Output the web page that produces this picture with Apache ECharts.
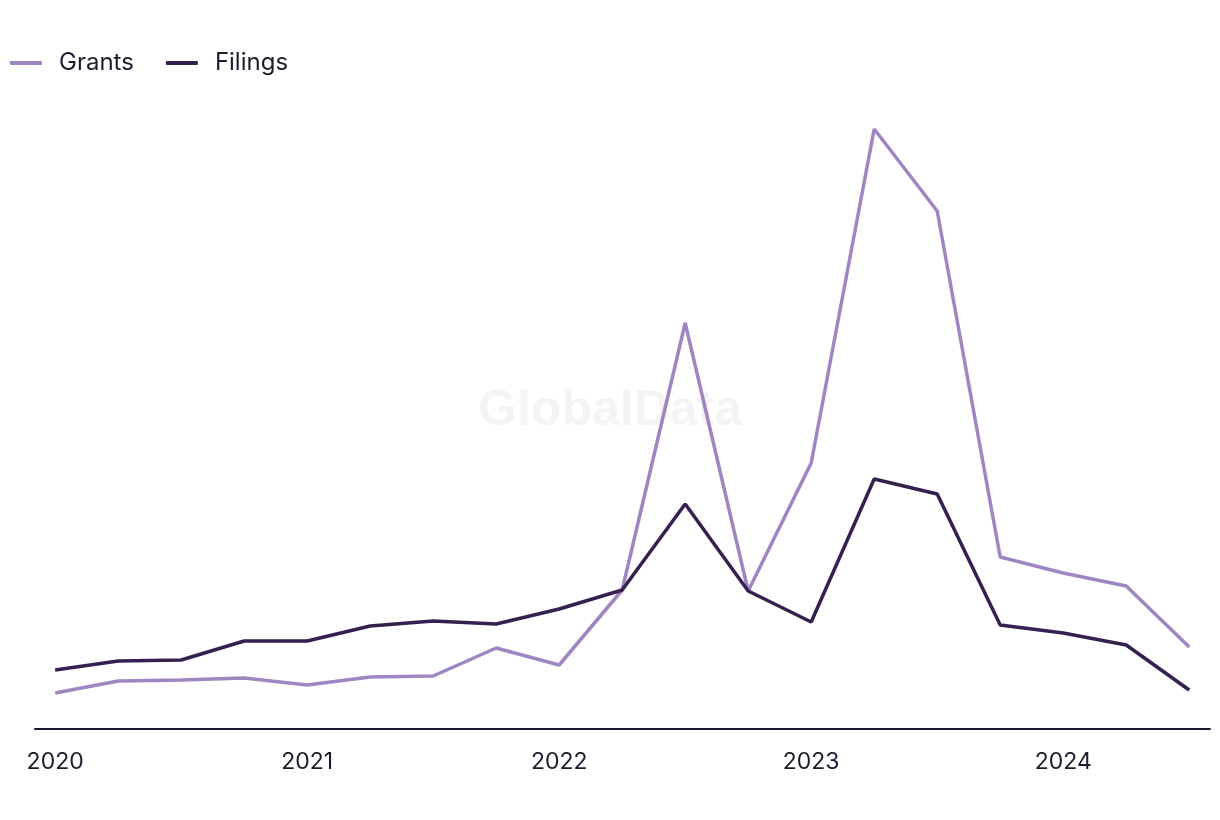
<!DOCTYPE html>
<html>
<head>
<meta charset="utf-8">
<script src="https://cdn.jsdelivr.net/npm/echarts@6/dist/echarts.min.js"></script>
<style>
html,body{margin:0;padding:0;background:#fff;}
#chart{width:1220px;height:820px;}
</style>
</head>
<body>
<div id="chart"></div>
<script>
const quarters = ['2020 Q1','2020 Q2','2020 Q3','2020 Q4','2021 Q1','2021 Q2','2021 Q3','2021 Q4','2022 Q1','2022 Q2','2022 Q3','2022 Q4','2023 Q1','2023 Q2','2023 Q3','2023 Q4','2024 Q1','2024 Q2','2024 Q3'];
const grants  = [36, 48, 49, 51, 44, 52, 53, 81, 64, 139, 406, 138, 266, 600, 518, 172, 156, 143, 82];
const filings = [59, 68, 69, 88, 88, 103, 108, 105, 120, 139, 225, 138, 107, 250, 235, 104, 96, 84, 39];
const yearTicks = [0, 4, 8, 12, 16];
const yearLabels = ['2020', '2021', '2022', '2023', '2024'];

const chart = echarts.init(document.getElementById('chart'));
const font = 'Inter, "Noto Sans", sans-serif';
chart.setOption({
  animation: false,
  textStyle: { fontFamily: font },
  graphic: [{
    type: 'text', left: 'center', top: 386, z: 0,
    style: { text: 'GlobalData', fontSize: 50, fontWeight: 'bold', fill: '#f4f4f4', fontFamily: 'Liberation Sans, Arial, sans-serif' }
  }],
  legend: {
    left: 10, top: 51, padding: 0, itemWidth: 32, itemHeight: 4, itemGap: 32, icon: 'roundRect',
    textStyle: { fontSize: 24, color: '#1e1b2e', fontFamily: font, padding: [0, 0, 0, 12] },
    data: [{ name: 'Grants' }, { name: 'Filings' }]
  },
  grid: { left: 35, right: 10, top: 100, bottom: 91, containLabel: false },
  xAxis: {
    type: 'value', min: -0.32, max: 18.33,
    splitLine: { show: false },
    axisLine: { show: true, lineStyle: { color: '#1a1a2e', width: 2 } },
    axisTick: { show: false },
    axisLabel: {
      customValues: yearTicks, margin: 22, fontSize: 23, color: '#1e1b2e', fontFamily: font,
      formatter: v => yearLabels[yearTicks.indexOf(Math.round(v))] || ''
    }
  },
  yAxis: {
    type: 'value', min: 0, max: 629, show: false, splitLine: { show: false }
  },
  series: [
    { name: 'Grants', type: 'line', symbol: 'none', z: 3,
      data: grants.map((v, i) => [i, v]),
      lineStyle: { width: 3.5, color: '#9f86c2' }, itemStyle: { color: '#9f86c2' } },
    { name: 'Filings', type: 'line', symbol: 'none', z: 4,
      data: filings.map((v, i) => [i, v]),
      lineStyle: { width: 3.5, color: '#35204f' }, itemStyle: { color: '#35204f' } }
  ]
});
</script>
</body>
</html>
